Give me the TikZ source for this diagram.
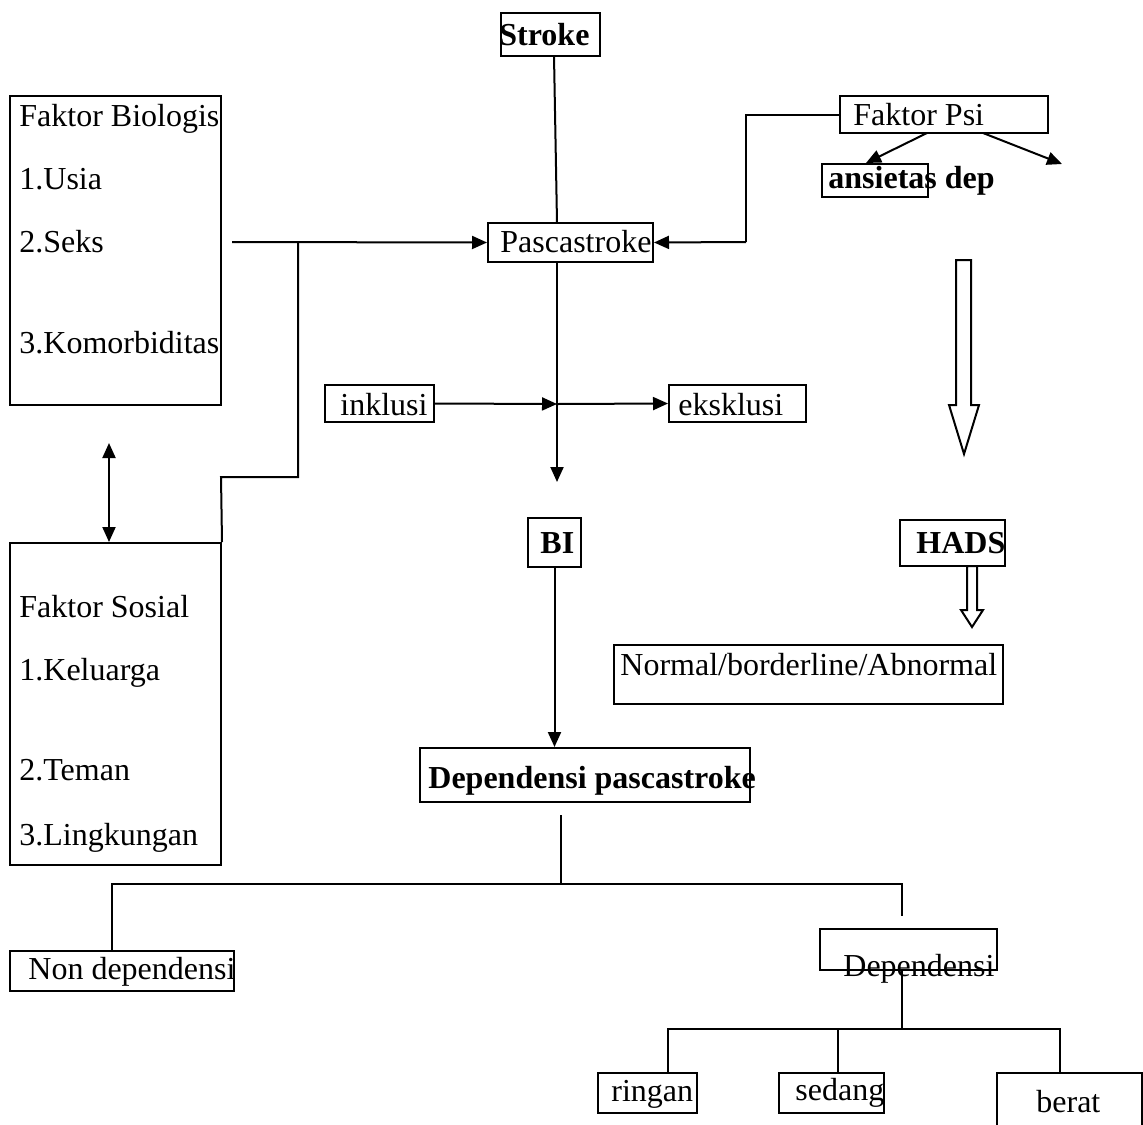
\documentclass[tikz,border=0pt]{standalone}
\usepackage{fontspec}
\setmainfont{Liberation Serif}
\usetikzlibrary{arrows.meta,fit}
\begin{document}
\begin{tikzpicture}[x=0.5pt,y=-0.5pt,
  bx/.style={draw,line width=1pt,inner sep=0pt},
  txt/.style={inner sep=0pt,anchor=base west,font=\fontsize{16}{19}\selectfont},
  ln/.style={line width=1pt},
  arr/.style={line width=1pt,-{Triangle[length=7.5pt,width=6.5pt]}},
  darr/.style={line width=1pt,{Triangle[length=7.5pt,width=6.5pt]}-{Triangle[length=7.5pt,width=6.5pt]}},
  hollow/.style={draw,line width=1pt,fill=white,line join=miter}]
\useasboundingbox (0,0) rectangle (1143,1124);
% boxes
\node[bx,fit={(501,13)(600,56)}] (stroke) {};
\node[bx,fit={(488,223)(653,262)}] (pasca) {};
\node[bx,fit={(840,96)(1048,133)}] (psi) {};
\node[bx,fit={(822,164)(928,197)}] (ans) {};
\node[bx,fit={(10,96)(221,405)}] (bio) {};
\node[bx,fit={(10,543)(221,865)}] (sos) {};
\node[bx,fit={(325,385)(434,422)}] (inkl) {};
\node[bx,fit={(669,385)(806,422)}] (eksk) {};
\node[bx,fit={(528,518)(581,567)}] (bi) {};
\node[bx,fit={(900,520)(1005,566)}] (hads) {};
\node[bx,fit={(614,645)(1003,704)}] (norm) {};
\node[bx,fit={(420,748)(750,802)}] (dp) {};
\node[bx,fit={(10,951)(234,991)}] (nond) {};
\node[bx,fit={(820,929)(997,970)}] (dep) {};
\node[bx,fit={(598,1073)(697,1113)}] (ring) {};
\node[bx,fit={(779,1073)(884,1113)}] (sed) {};
\node[bx,fit={(997,1073)(1142,1130)}] (ber) {};
% texts
\node[txt] (tstroke) at (499,45) {\textbf{Stroke}};
\node[txt] (tpasca) at (500,252) {Pascastroke};
\node[txt] (tpsi) at (853,125) {Faktor Psi};
\node[txt] (tans) at (828,188) {\textbf{ansietas dep}};
\node[txt] (tb0) at (19,126) {Faktor Biologis};
\node[txt] (tb1) at (19,189) {1.Usia};
\node[txt] (tb2) at (19,252) {2.Seks};
\node[txt] (tb3) at (19,353) {3.Komorbiditas};
\node[txt] (ts0) at (19,617) {Faktor Sosial};
\node[txt] (ts1) at (19,680) {1.Keluarga};
\node[txt] (ts2) at (19,780) {2.Teman};
\node[txt] (ts3) at (19,845) {3.Lingkungan};
\node[txt] (tinkl) at (340,415) {inklusi};
\node[txt] (teksk) at (678,415) {eksklusi};
\node[txt] (tbi) at (540,553) {\textbf{BI}};
\node[txt] (thads) at (916,553) {\textbf{HADS}};
\node[txt] (tnorm) at (620,675) {Normal/borderline/Abnormal};
\node[txt] (tdp) at (428,788) {\textbf{Dependensi pascastroke}};
\node[txt] (tnond) at (28,979) {Non dependensi};
\node[txt] (tdep) at (843,976) {Dependensi};
\node[txt] (tring) at (611,1101) {ringan};
\node[txt] (tsed) at (795,1100) {sedang};
\node[txt] (tber) at (1036,1112) {berat};
% coordinates
\coordinate (s1) at (554,56);
\coordinate (s2) at (557,223);
\coordinate (vx) at (557,262);
\coordinate (cross) at (557,404);
\coordinate (vend) at (557,482);
\coordinate (seks) at (232,242);
\coordinate (j1) at (298,242);
\coordinate (j2) at (298,477);
\coordinate (j3) at (221,477);
\coordinate (psiL) at (746,115);
\coordinate (psiD) at (746,242);
\coordinate (a1s) at (927,133);
\coordinate (a1e) at (866,163);
\coordinate (a2s) at (983,133);
\coordinate (a2e) at (1062,164);
\coordinate (dtop) at (109,443);
\coordinate (t0) at (561,815);
\coordinate (t1) at (561,884);
\coordinate (tl) at (112,884);
\coordinate (tr) at (902,884);
\coordinate (tr2) at (902,916);
\coordinate (dx) at (902,1029);
\coordinate (hl) at (668,1029);
\coordinate (hm) at (838,1029);
\coordinate (hr) at (1060,1029);
% connectors
\draw[ln] (s1) -- (s2);
\draw[arr] (seks) -- (pasca.west);
\draw[ln] (j1) -- (j2) -- (j3) -- (sos.north east);
\draw[ln] (psi.west |- psiL) -- (psiL) -- (psiD);
\draw[arr] (psiD) -- (pasca.east);
\draw[arr] (a1s) -- (a1e);
\draw[arr] (a2s) -- (a2e);
\draw[arr] (vx) -- (vend);
\draw[arr] (inkl.east) -- (cross);
\draw[arr] (cross) -- (eksk.west);
\draw[darr] (dtop) -- (dtop |- sos.north);
\draw[arr] (bi.south) -- (bi.south |- dp.north);
\draw[ln] (t0) -- (t1);
\draw[ln] (tl |- nond.north) -- (tl) -- (tr) -- (tr2);
\draw[ln] (dx |- dep.south) -- (dx);
\draw[ln] (hl |- ring.north) -- (hl) -- (hr) -- (hr |- ber.north);
\draw[ln] (hm) -- (hm |- sed.north);
% hollow arrows
\draw[hollow] (956,260) -- (971,260) -- (971,405) -- (979,405) -- (964,454) -- (949,405) -- (956,405) -- cycle;
\draw[hollow] (967,566) -- (977,566) -- (977,610) -- (983,610) -- (972,627) -- (961,610) -- (967,610) -- cycle;
\end{tikzpicture}
\end{document}
